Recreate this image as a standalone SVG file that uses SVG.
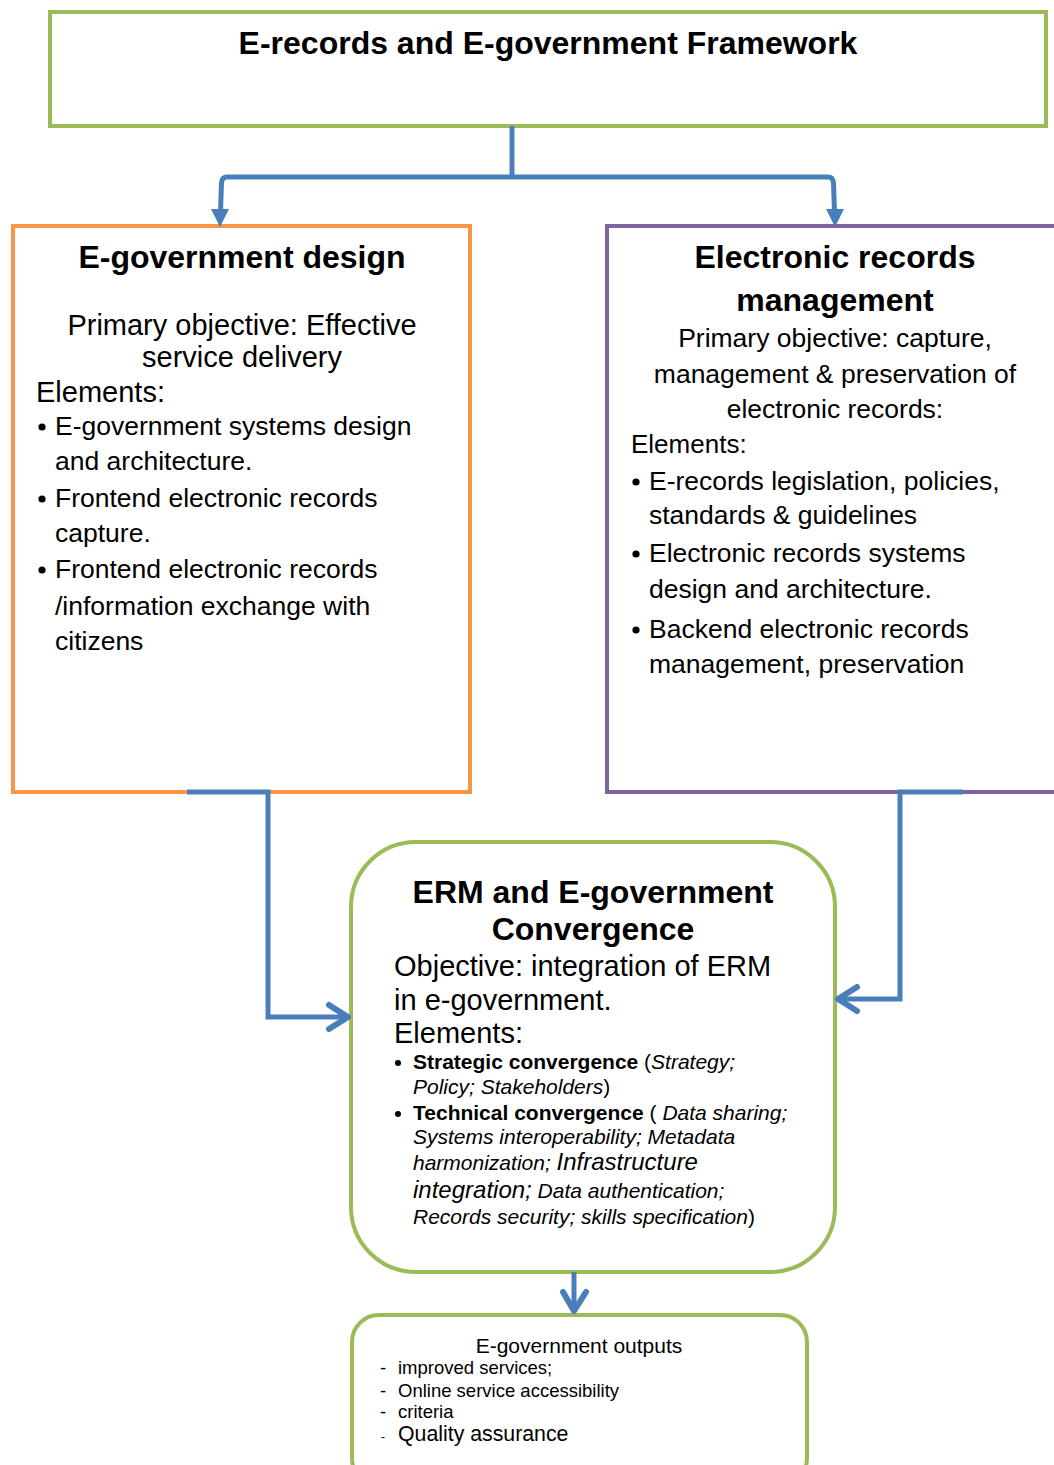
<svg xmlns="http://www.w3.org/2000/svg" width="1054" height="1465" viewBox="0 0 1054 1465">
<style>
text { font-family: "Liberation Sans", Arial, sans-serif; fill: #000; }
.h { font-weight: bold; font-size: 32px; text-anchor: middle; }
.c { text-anchor: middle; }
.box { fill: #fff; stroke-width: 4; }
.g { stroke: #9BBB59; }
.o { stroke: #F79646; }
.p { stroke: #8064A2; }
.con { fill: none; stroke: #4A7EBB; stroke-width: 5; stroke-linejoin: miter; }
.chev { fill: none; stroke: #4A7EBB; stroke-width: 6; stroke-linecap: round; stroke-linejoin: round; }
.tri { fill: #4A7EBB; }
.dot { fill: #000; }
.b { font-weight: bold; }
.i { font-style: italic; }
</style>
<rect width="1054" height="1465" fill="#fff"/>

<g id="framework">
<rect class="box g" x="50" y="12" width="996" height="114"/>
<text class="h" x="548" y="54">E-records and E-government Framework</text>
</g>

<g id="egov-design">
<rect class="box o" x="13" y="226" width="457" height="566"/>
<text class="h" x="242" y="268">E-government design</text>
<text class="c" x="242" y="335" font-size="29">Primary objective: Effective</text>
<text class="c" x="242" y="367" font-size="29">service delivery</text>
<text x="36" y="402" font-size="29">Elements:</text>
<circle class="dot" cx="42" cy="427" r="3.6"/>
<circle class="dot" cx="42" cy="499" r="3.6"/>
<circle class="dot" cx="42" cy="570" r="3.6"/>
<g font-size="26.5">
<text x="55" y="435">E-government systems design</text>
<text x="55" y="470">and architecture.</text>
<text x="55" y="507">Frontend electronic records</text>
<text x="55" y="542">capture.</text>
<text x="55" y="578">Frontend electronic records</text>
<text x="55" y="615">/information exchange with</text>
<text x="55" y="650">citizens</text>
</g>
</g>

<g id="erm">
<rect class="box p" x="607" y="226" width="457" height="566"/>
<text class="h" x="835" y="268">Electronic records</text>
<text class="h" x="835" y="311">management</text>
<circle class="dot" cx="636" cy="482" r="3.6"/>
<circle class="dot" cx="636" cy="554" r="3.6"/>
<circle class="dot" cx="636" cy="630" r="3.6"/>
<g font-size="26.5">
<text class="c" x="835" y="347">Primary objective: capture,</text>
<text class="c" x="835" y="383">management &amp; preservation of</text>
<text class="c" x="835" y="418">electronic records:</text>
<text x="631" y="453" font-size="26">Elements:</text>
<text x="649" y="490">E-records legislation, policies,</text>
<text x="649" y="524">standards &amp; guidelines</text>
<text x="649" y="562">Electronic records systems</text>
<text x="649" y="598">design and architecture.</text>
<text x="649" y="638">Backend electronic records</text>
<text x="649" y="673">management, preservation</text>
</g>
</g>

<g id="convergence">
<rect class="box g" x="351" y="842" width="484" height="430" rx="65" ry="65"/>
<text class="h" x="593" y="903">ERM and E-government</text>
<text class="h" x="593" y="940">Convergence</text>
<text x="394" y="976" font-size="29">Objective: integration of ERM</text>
<text x="394" y="1010" font-size="29">in e-government.</text>
<text x="394" y="1043" font-size="29">Elements:</text>
<circle class="dot" cx="398" cy="1063" r="3"/>
<circle class="dot" cx="398" cy="1114" r="3"/>
<g font-size="21">
<text x="413" y="1069"><tspan class="b">Strategic convergence</tspan> (<tspan class="i">Strategy;</tspan></text>
<text x="413" y="1094"><tspan class="i">Policy; Stakeholders</tspan>)</text>
<text x="413" y="1120"><tspan class="b">Technical convergence</tspan> ( <tspan class="i">Data sharing;</tspan></text>
<text x="413" y="1144" class="i">Systems interoperability; Metadata</text>
<text x="413" y="1170" class="i">harmonization; <tspan font-size="24">Infrastructure</tspan></text>
<text x="413" y="1198" class="i"><tspan font-size="24">integration;</tspan> Data authentication;</text>
<text x="413" y="1224"><tspan class="i">Records security; skills specification</tspan>)</text>
</g>
</g>

<g id="outputs">
<rect class="box g" x="352" y="1315" width="455" height="170" rx="27" ry="27"/>
<text class="c" x="579" y="1353" font-size="21">E-government outputs</text>
<g font-size="18.5">
<text x="380" y="1374">-</text><text x="398" y="1374">improved services;</text>
<text x="380" y="1397">-</text><text x="398" y="1397">Online service accessibility</text>
<text x="380" y="1418">-</text><text x="398" y="1418">criteria</text>
<text x="381" y="1441" font-size="12">-</text><text x="398" y="1441" font-size="21.3">Quality assurance</text>
</g>
</g>

<g id="connectors">
<path class="con" d="M512,126 V177"/>
<path class="con" d="M512,177 H227 Q222,177 221.5,183 L220.5,212"/>
<polygon class="tri" points="211,209 229,209 220,227"/>
<path class="con" d="M512,177 H828 Q833,177 833.5,183 L834.5,212"/>
<polygon class="tri" points="826,209 844,209 835,227"/>
<path class="con" d="M187,792 H268 V1017 H346"/>
<polyline class="chev" points="329,1005 348,1017 329,1029"/>
<path class="con" d="M963,792 H900 V999 H840"/>
<polyline class="chev" points="857,987 838,999 857,1011"/>
<path class="con" d="M574,1272 V1309"/>
<polyline class="chev" points="563,1292 574,1311 586,1292"/>
</g>
</svg>
